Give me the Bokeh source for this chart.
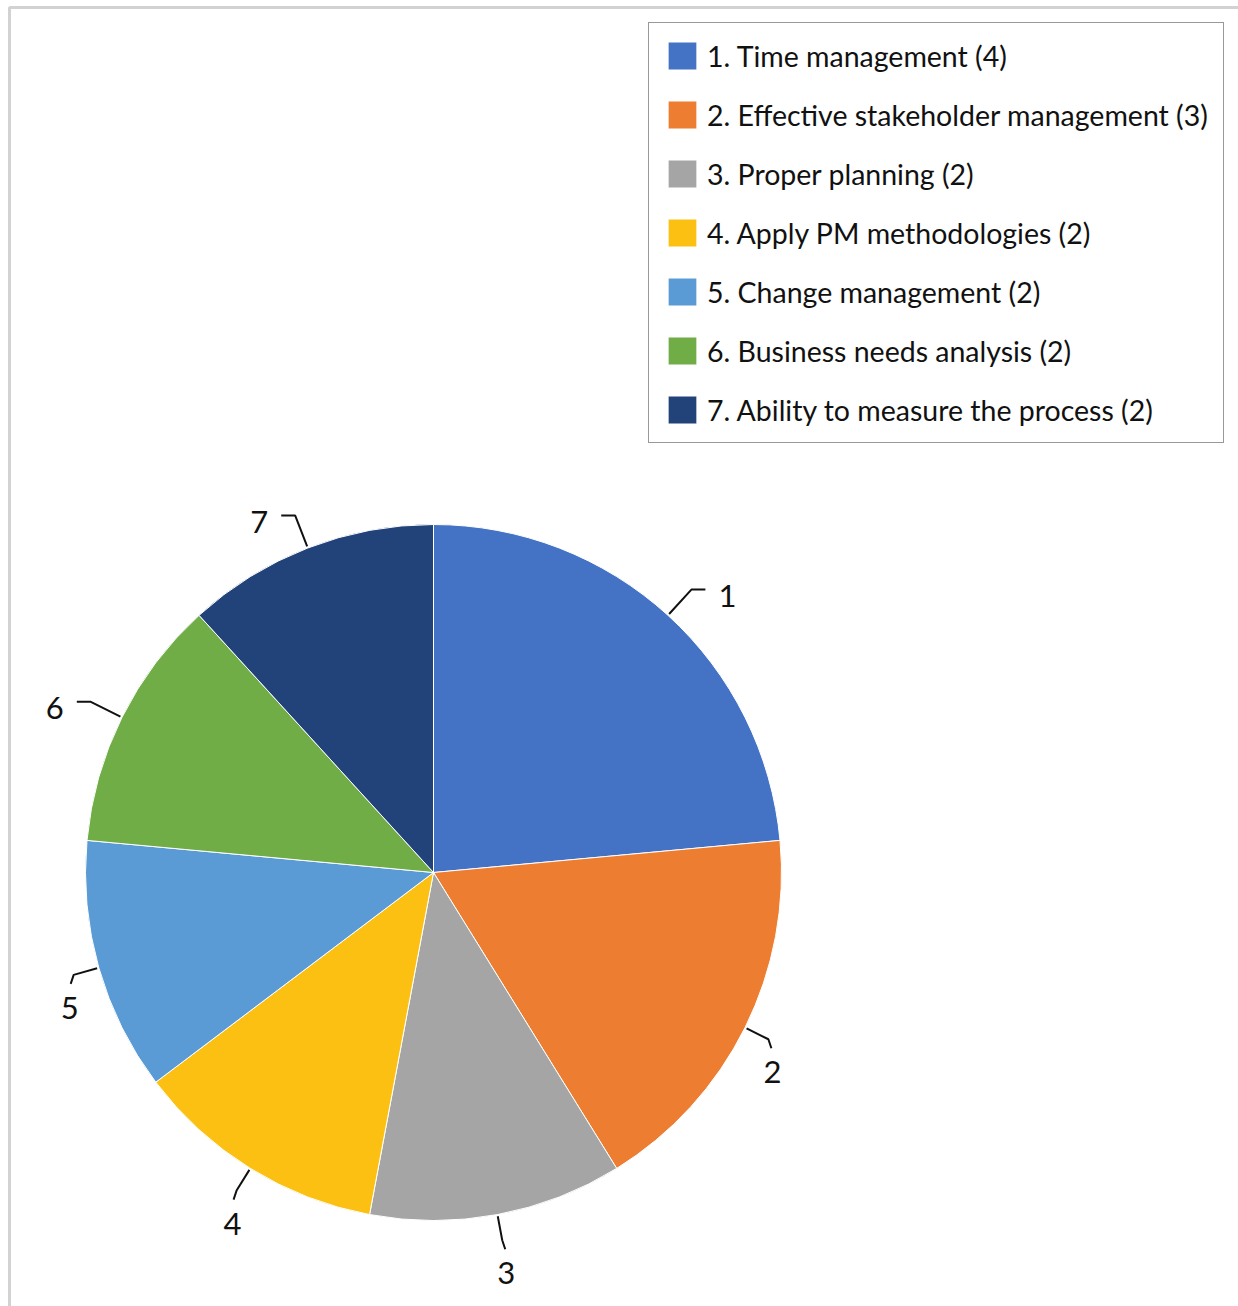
import numpy as np
from bokeh.plotting import figure
from bokeh.models import Range1d, Legend, LegendItem, BoxAnnotation
from bokeh.core.properties import value
from bokeh.embed import file_html
from bokeh.resources import INLINE

labels = ["1. Time management (4)",
          "2. Effective stakeholder management (3)",
          "3. Proper planning (2)",
          "4. Apply PM methodologies (2)",
          "5. Change management (2)",
          "6. Business needs analysis (2)",
          "7. Ability to measure the process (2)"]
short = ["1", "2", "3", "4", "5", "6", "7"]
counts = [4, 3, 2, 2, 2, 2, 2]
colors = ["#4472C4", "#ED7D31", "#A5A5A5", "#FBC012", "#5B9BD5", "#70AD47", "#22427A"]

FONT = "Lato"
W, H = 1238, 1306
cx, cy = 433, 872  # pie centre in page pixels
R = 348

vals = np.array(counts, dtype=float)
frac = vals / vals.sum()
cum = np.concatenate([[0], np.cumsum(frac)])
start = np.pi / 2 - cum[:-1] * 2 * np.pi
end = np.pi / 2 - cum[1:] * 2 * np.pi
mid = (start + end) / 2

p = figure(width=W, height=H, output_backend="svg", toolbar_location=None,
           x_range=Range1d(-cx, W - cx), y_range=Range1d(-(H - cy), cy),
           x_axis_location=None, y_axis_location=None, min_border=0,
           outline_line_color=None, background_fill_color="white")
p.grid.visible = False

items = []
for i in range(len(counts)):
    r = p.wedge(x=0, y=0, radius=R, start_angle=start[i], end_angle=end[i],
                direction="clock", fill_color=colors[i], line_color="white",
                line_width=1)
    items.append(LegendItem(label=labels[i], renderers=[r]))

# leader lines and labels (derived from slice mid-angles)
xs, ys = [], []
lx, ly = [], []
for i, a in enumerate(mid):
    ca, sa = np.cos(a), np.sin(a)
    ax, ay = R * 1.005 * ca, R * 1.005 * sa
    sgn = 1 if ca >= 0 else -1
    if sa > 0:
        bx, by = R * 1.10 * ca, R * 1.10 * sa
        c_x, c_y = bx + sgn * 14, by
        tx, ty = c_x + sgn * 22, c_y - 6
    else:
        bx, by = R * 1.075 * ca, R * 1.075 * sa
        c_x, c_y = bx + sgn * 3, by - 9
        tx, ty = c_x + sgn * 1, c_y - 24
    xs.append([ax, bx, c_x])
    ys.append([ay, by, c_y])
    lx.append(tx)
    ly.append(ty)
p.multi_line(xs=xs, ys=ys, line_color="#111111", line_width=2)
p.text(x=lx, y=ly, text=short, text_align="center", text_baseline="middle",
       text_font=value(FONT), text_font_size="31px", text_color="#111111")

# outer frame (left and top edges visible)
frame = BoxAnnotation(left=9 - cx, top=cy - 7, right=4000, bottom=-4000,
                      fill_alpha=0, line_color="#6A6A6A", line_width=3)
p.add_layout(frame)

legend = Legend(items=items, location=(648, H - 443),
                label_text_font=FONT, label_text_font_size="28.5px",
                label_text_color="#111111",
                glyph_width=36, glyph_height=35, label_height=35,
                label_standoff=7, spacing=24, padding=15, margin=0,
                border_line_color="#333333", border_line_width=1.5,
                background_fill_color="white", background_fill_alpha=1)
p.add_layout(legend, "center")

open("out.html", "w").write(file_html(p, INLINE))
